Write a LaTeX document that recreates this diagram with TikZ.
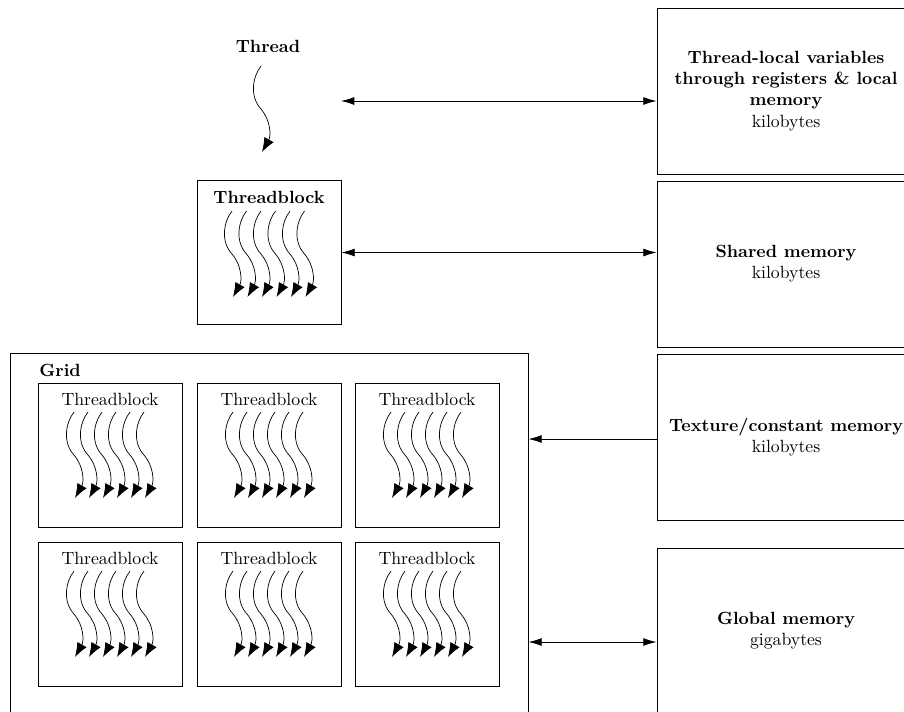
\documentclass[tikz,border=0pt]{standalone}
\usetikzlibrary{arrows.meta,calc}

\begin{document}
\begin{tikzpicture}[
    x=0.565pt, y=-0.565pt,
    line width=0.5pt,
    >={Latex[length=7.5pt,width=4.5pt]},
    block/.style={draw, minimum width=81.36pt, minimum height=81.36pt, inner sep=0pt},
    memory/.style={draw, minimum width=145.77pt, minimum height=93.79pt, align=center, inner sep=2pt},
    heading/.style={font=\bfseries, inner sep=0pt},
    subtitle/.style={inner sep=0pt},
    thread/.pic={
      \draw[line width=0.4pt, -{Latex[length=8pt,width=6pt]}]
        (0,0) .. controls (-8,10) and (-12,30) .. (0,43)
              .. controls (10,55) and (10,70) .. (1,86);
    }
  ]
  \useasboundingbox (0,0) rectangle (904,711);
  \clip (0,0) rectangle (904,711);

  % single thread
  \node[heading] (threadlbl) at (268,46) {Thread};
  \pic at (261,66) {thread};
  \coordinate (threadport) at (341,101);

  % one thread block
  \node[block] (tb) at (269,252.5) {};
  \node[heading] (tbtitle) at (269,197) {Threadblock};
  \foreach \i in {0,...,5} \pic at (232+14.5*\i,211) {thread};

  % grid of thread blocks
  \node[draw, minimum width=292.67pt, minimum height=205.66pt, inner sep=0pt] (grid) at (269,535) {};
  \node[heading, anchor=west] (gridlbl) at (39,370) {Grid};
  \foreach \c/\x in {1/38,2/197,3/355} {
    \foreach \r/\y in {1/383,2/542} {
      \node[block] (b\r\c) at (\x+72,\y+72) {};
      \node[subtitle] (t\r\c) at (\x+72,\y+16) {Threadblock};
      \foreach \i in {0,...,5} \pic at (\x+36+14*\i,\y+29) {thread};
    }
  }

  % memory spaces
  \node[memory] (mem1) at (786,91)
    {\textbf{Thread-local variables}\\\textbf{through registers \& local}\\\textbf{memory}\\kilobytes};
  \node[memory] (mem2) at (786,264) {\textbf{Shared memory}\\kilobytes};
  \node[memory] (mem3) at (786,437) {\textbf{Texture/constant memory}\\kilobytes};
  \node[memory] (mem4) at (786,631) {\textbf{Global memory}\\gigabytes};

  % accesses
  \draw[<->] (threadport) -- (threadport -| mem1.west);
  \draw[<->] (tb.east) -- (tb.east -| mem2.west);
  \coordinate (textureport) at ($(mem3.west)+(0,2)$);
  \draw[->] (textureport) -- (textureport -| grid.east);
  \coordinate (globalport) at ($(grid.east)+(0,107)$);
  \draw[<->] (globalport) -- (globalport -| mem4.west);
\end{tikzpicture}
\end{document}
